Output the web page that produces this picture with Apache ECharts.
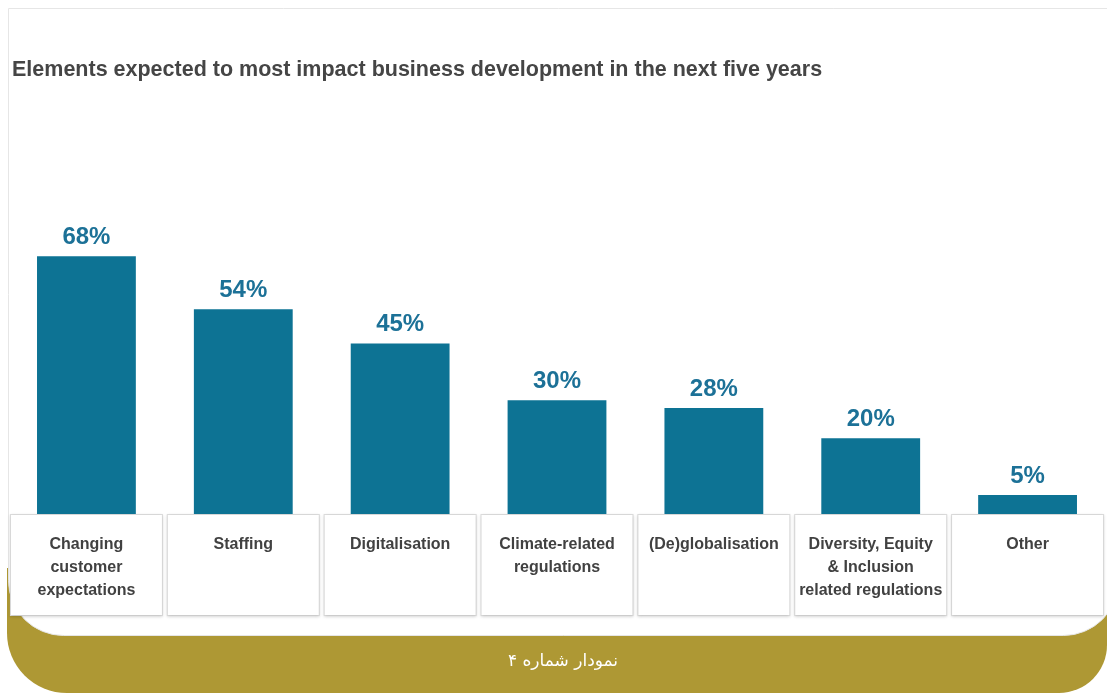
<!DOCTYPE html>
<html>
<head>
  <meta charset="UTF-8">
  <title>Elements expected to most impact business development</title>
  <script src="https://cdn.jsdelivr.net/npm/echarts@6/dist/echarts.min.js"></script>
  <style>
    html, body { margin: 0; padding: 0; background: #fff; }
    #chart { width: 1107px; height: 693px; }
  </style>
</head>
<body>
  <div id="chart"></div>
  <script>
    // data
    var categories = [
      'Changing\ncustomer\nexpectations',
      'Staffing',
      'Digitalisation',
      'Climate-related\nregulations',
      '(De)globalisation',
      'Diversity, Equity\n& Inclusion\nrelated regulations',
      'Other'
    ];
    var shares = [68, 54, 45, 30, 28, 20, 5];

    var titleText = 'Elements expected to most impact business development in the next five years';
    var captionText = 'نمودار شماره ۴';

    var myChart = echarts.init(document.getElementById('chart'));

    var option = {
      backgroundColor: '#fff',
      title: {
        text: titleText,
        left: 12,
        top: 59,
        padding: 0,
        textStyle: {
          fontFamily: 'Liberation Sans, Arial, sans-serif',
          fontSize: 21.5,
          fontWeight: 'bold',
          color: '#454545'
        }
      },
      // frame, gold band and caption
      graphic: [
        {
          type: 'rect',
          z: -2,
          shape: { x: 7, y: 568, width: 1100, height: 125, r: [0, 0, 48, 60] },
          style: { fill: '#ae9834' }
        },
        {
          type: 'rect',
          z: -1,
          shape: { x: 8.5, y: 8.5, width: 1110, height: 627, r: [0, 0, 55, 55] },
          style: { fill: '#fff', stroke: '#e6e6e6', lineWidth: 1 }
        },
        {
          type: 'text',
          z: -1,
          x: 563,
          y: 662,
          style: {
            text: captionText,
            fill: '#fff',
            font: '17px "DejaVu Sans", sans-serif',
            textAlign: 'center',
            textVerticalAlign: 'middle'
          }
        }
      ],
      grid: {
        left: 8,
        right: 0,
        top: 135,
        bottom: 179,
        containLabel: false
      },
      xAxis: {
        type: 'category',
        data: categories,
        axisLine: { show: false },
        axisTick: { show: false },
        axisLabel: {
          interval: 0,
          margin: 1,
          width: 151,
          height: 82,
          padding: [18, 0, 0, 0],
          lineHeight: 23,
          align: 'center',
          verticalAlign: 'top',
          backgroundColor: '#fff',
          borderColor: '#dcdcdc',
          borderWidth: 1,
          shadowColor: 'rgba(0,0,0,0.12)',
          shadowBlur: 3,
          shadowOffsetY: 1,
          fontFamily: 'Liberation Sans, Arial, sans-serif',
          fontSize: 16,
          fontWeight: 'bold',
          color: '#414141'
        }
      },
      yAxis: {
        type: 'value',
        min: 0,
        max: 100,
        show: false,
        splitLine: { show: false }
      },
      series: [
        {
          type: 'bar',
          data: shares,
          barWidth: '63%',
          itemStyle: { color: '#0d7394' },
          label: {
            show: true,
            position: 'top',
            distance: 7,
            formatter: '{c}%',
            fontFamily: 'Liberation Sans, Arial, sans-serif',
            fontSize: 24,
            fontWeight: 'bold',
            color: '#1c7197'
          }
        }
      ]
    };

    myChart.setOption(option);
  </script>
</body>
</html>
